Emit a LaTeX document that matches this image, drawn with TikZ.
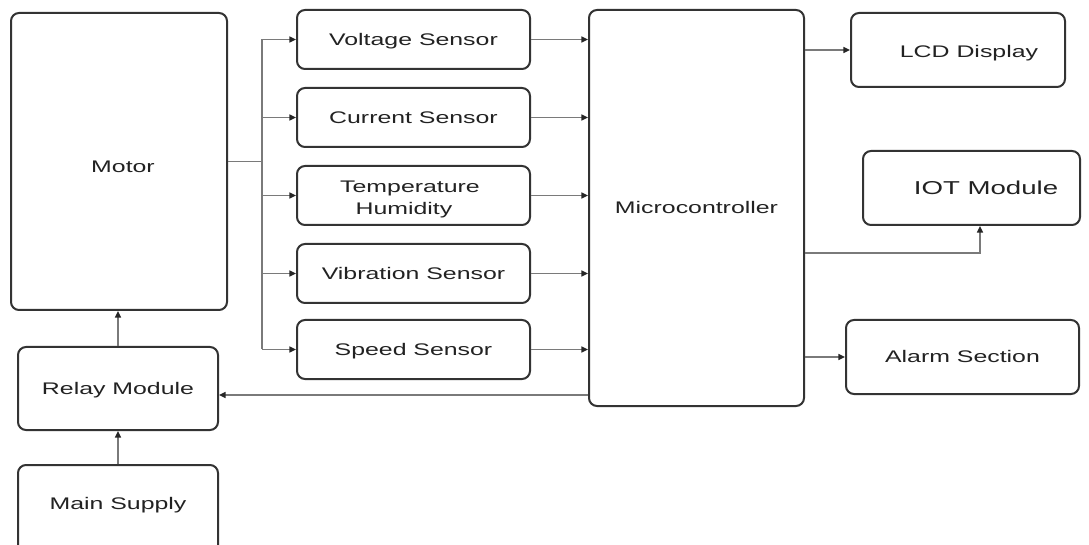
\documentclass[tikz,border=0pt]{standalone}
\usepackage{fontspec}
\setmainfont[FakeStretch=1.48]{Liberation Sans}
\usetikzlibrary{arrows.meta}
\definecolor{boxline}{HTML}{333333}
\definecolor{conn}{HTML}{7A7A7A}
\definecolor{txt}{HTML}{222222}
\begin{document}
\begin{tikzpicture}[x=0.75pt,y=-0.75pt,
  lbl/.style={text=txt,font=\fontsize{12.6}{16.5}\selectfont,inner sep=0pt,align=center},
  capc/.style={text height=9pt,text depth=0pt},
  box/.style={draw=boxline,line width=1.5pt,rounded corners=6pt,fill=white,
    inner sep=0pt,lbl},
  sensorbox/.style={box,capc,minimum width=174.75pt,minimum height=44.25pt},
  wire/.style={draw=conn,line width=1.1pt},
  arr/.style={wire,-{Triangle[length=5pt,width=4.5pt,color=black!85]}}]
\useasboundingbox (0,0) rectangle (1089,545);
\fill[white] (0,0) rectangle (1089,545);
\begin{scope}
\clip (0,0) rectangle (1089,545);
% boxes
\node[box,minimum width=162pt,minimum height=222.75pt] (motor) at (119,161.5) {};
\node[lbl,capc] (motortxt) at (123,167) {Motor};
\node[sensorbox] (volt) at (413.5,39.5) {Voltage Sensor};
\node[sensorbox] (curr) at (413.5,117.5) {Current Sensor};
\node[box,minimum width=174.75pt,minimum height=44.25pt] (temp) at (413.5,195.5) {};
\node[lbl,capc] (temptxt1) at (410,187) {Temperature};
\node[lbl,capc] (temptxt2) at (404,209) {Humidity};
\node[sensorbox] (vib) at (413.5,273.5) {Vibration Sensor};
\node[sensorbox] (speed) at (413.5,349.5) {Speed Sensor};
\node[box,capc,minimum width=161.25pt,minimum height=297pt] (micro) at (696.5,208) {Microcontroller};
\node[box,capc,minimum width=160.5pt,minimum height=55.5pt] (lcd) at (958,50) {};
\node[lbl,capc] (lcdtxt) at (969,51.5) {LCD Display};
\node[box,minimum width=162.75pt,minimum height=55.5pt] (iot) at (971.5,188) {};
\node[lbl,text height=10pt,text depth=0pt,font=\fontsize{14}{17}\selectfont] (iottxt) at (986,187.5) {IOT Module};
\node[box,capc,minimum width=174.75pt,minimum height=55.5pt] (alarm) at (962.5,357) {Alarm Section};
\node[box,capc,minimum width=150pt,minimum height=62.25pt] (relay) at (118,388.5) {Relay Module};
\node[box,minimum width=150pt,minimum height=71.25pt] (main) at (118,512.5) {};
\node[lbl,capc] (maintxt) at (118,503) {Main Supply};
% motor to sensors bus
\coordinate (bus) at (262,161.5);
\coordinate (bustop) at (262,39.5);
\coordinate (busbot) at (262,349.5);
\draw[wire] (motor.east) -- (bus);
\draw[wire] (bustop) -- (busbot);
\draw[arr] (bustop) -- (volt.west);
\draw[arr] (bus |- curr.west) -- (curr.west);
\draw[arr] (bus |- temp.west) -- (temp.west);
\draw[arr] (bus |- vib.west) -- (vib.west);
\draw[arr] (busbot) -- (speed.west);
% sensors to microcontroller
\draw[arr] (volt.east) -- (volt.east -| micro.west);
\draw[arr] (curr.east) -- (curr.east -| micro.west);
\draw[arr] (temp.east) -- (temp.east -| micro.west);
\draw[arr] (vib.east) -- (vib.east -| micro.west);
\draw[arr] (speed.east) -- (speed.east -| micro.west);
% microcontroller outputs
\draw[arr] (micro.east |- lcd.west) -- (lcd.west);
\coordinate (iotc) at (980,253);
\draw[arr] (micro.east |- iotc) -- (iotc) -- (iotc |- iot.south);
\draw[arr] (micro.east |- alarm.west) -- (alarm.west);
\coordinate (rly) at (0,395);
\draw[arr] (micro.west |- rly) -- (relay.east |- rly);
% power chain
\draw[arr] (relay.north) -- (relay.north |- motor.south);
\draw[arr] (main.north) -- (relay.south);
\end{scope}
\end{tikzpicture}
\end{document}
